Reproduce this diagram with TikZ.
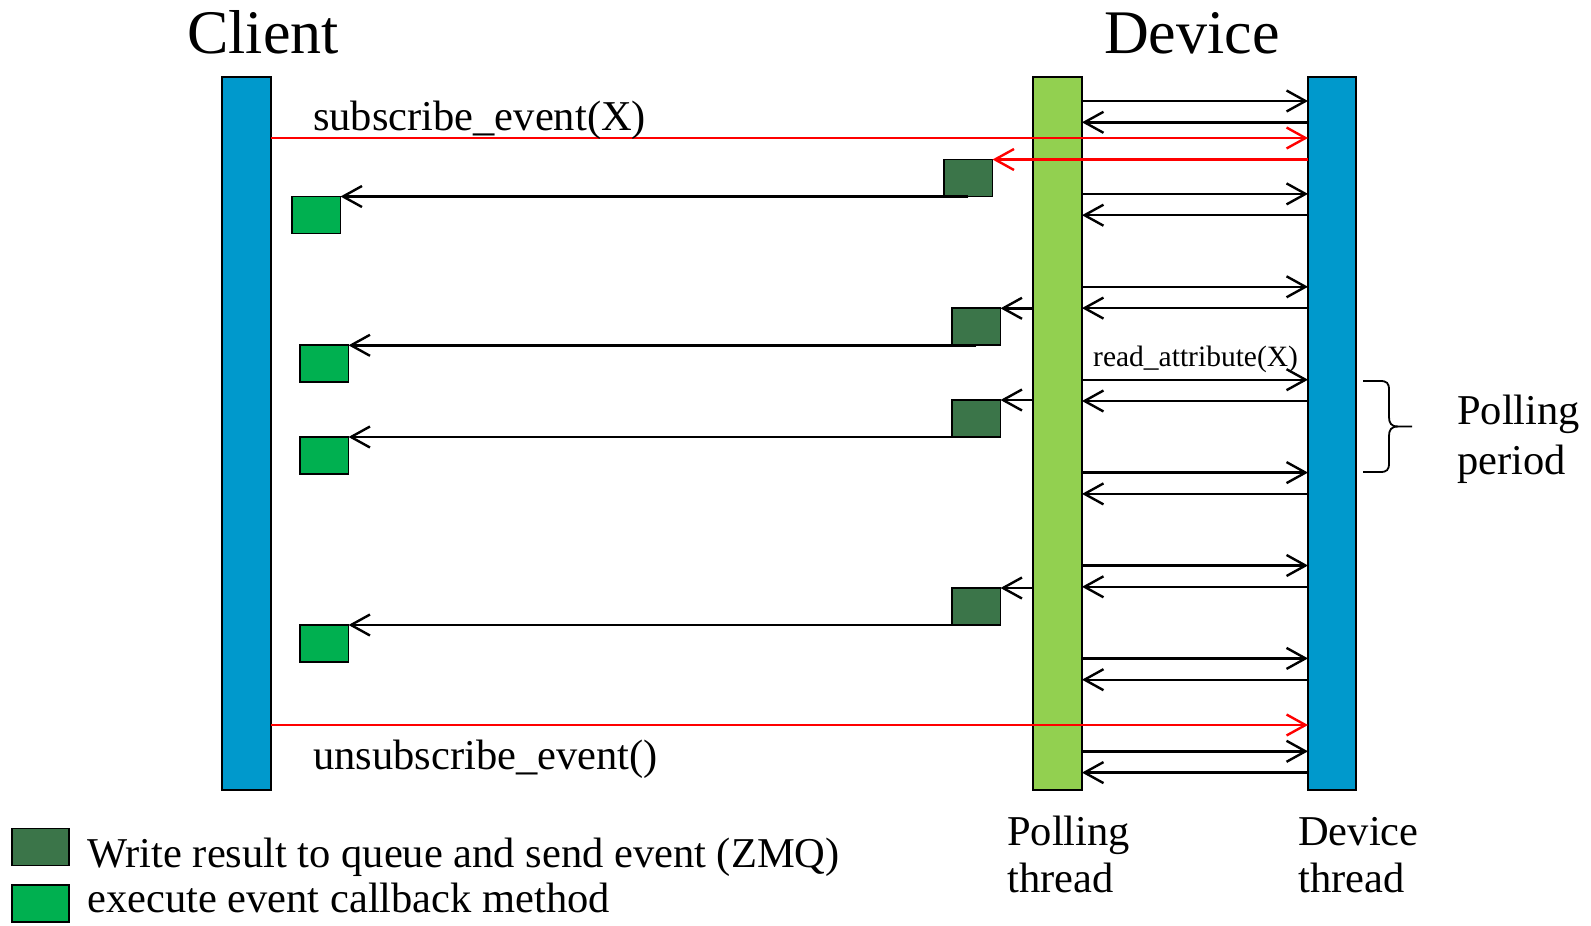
\documentclass[tikz,border=0pt]{standalone}
\usepackage{fontspec}
\setmainfont{Liberation Serif}
\usetikzlibrary{arrows.meta}
\definecolor{barblue}{RGB}{0,153,204}
\definecolor{pollgreen}{RGB}{146,208,80}
\definecolor{queuegreen}{RGB}{59,117,73}
\definecolor{cbgreen}{RGB}{0,176,80}
\begin{document}
\begin{tikzpicture}[x=1pt,y=-1pt,
  bar/.style={draw=black, line width=1.8pt, minimum width=49pt, minimum height=713pt, inner sep=0pt, outer sep=0pt},
  qbox/.style={draw=black, line width=1.8pt, fill=queuegreen, minimum width=48.5pt, minimum height=37pt, inner sep=0pt, outer sep=0pt, anchor=north west},
  cbbox/.style={qbox, fill=cbgreen},
  msg/.style={line width=2.4pt, -{Straight Barb[length=19pt,width=21pt]}},
  call/.style={msg, red},
  lbl/.style={inner sep=0pt, anchor=base west, font=\fontsize{42.5}{48}\selectfont},
  small/.style={inner sep=0pt, anchor=base west, font=\fontsize{29.5}{34}\selectfont},
  title/.style={inner sep=0pt, anchor=base, font=\fontsize{62}{70}\selectfont}]
\useasboundingbox (0,0) rectangle (1591,926);

% lifelines
\node[bar, fill=barblue] (client) at (246.5,433.5) {};
\node[bar, fill=pollgreen] (poll) at (1057.5,433.5) {};
\node[bar, fill=barblue, minimum width=48pt] (dev) at (1332,433.5) {};

\node[title] (tclient) at (263,53) {Client};
\node[title] (tdevice) at (1192,53) {Device};

% periodic polling requests and replies
\foreach \k in {0,...,7}{
  \pgfmathsetmacro\ya{101+92.9*\k}
  \pgfmathsetmacro\yb{\ya+21.3}
  \draw[msg] (poll.east |- 0,\ya) -- (dev.west |- 0,\ya);
  \draw[msg] (dev.west |- 0,\yb) -- (poll.east |- 0,\yb);
}
\node[small] (tread) at (1093,366) {read\_attribute(X)};

% queue writes and event callbacks
\node[qbox] (wq1) at (944,159.5) {};
\node[qbox] (wq2) at (952,308.3) {};
\node[qbox] (wq3) at (952,400) {};
\node[qbox] (wq4) at (952,588) {};
\node[cbbox] (cb1) at (292,196.5) {};
\node[cbbox] (cb2) at (300,345.3) {};
\node[cbbox] (cb3) at (300,437) {};
\node[cbbox] (cb4) at (300,625) {};

\draw[msg] (poll.west |- wq2.north) -- (wq2.north east);
\draw[msg] (poll.west |- wq3.north) -- (wq3.north east);
\draw[msg] (poll.west |- wq4.north) -- (wq4.north east);
\draw[msg] (wq1.south) -- (cb1.north east);
\draw[msg] (wq2.south) -- (cb2.north east);
\draw[msg] (wq3.south) -- (cb3.north east);
\draw[msg] (wq4.south) -- (cb4.north east);

% subscription calls
\draw[call] (client.east |- 0,138) -- (dev.west |- 0,138);
\draw[call] (dev.west |- wq1.north) -- (wq1.north east);
\draw[call] (client.east |- 0,725) -- (dev.west |- 0,725);
\node[lbl] (tsub) at (313,130) {subscribe\_event(X)};
\node[lbl] (tunsub) at (313,769) {unsubscribe\_event()};

% polling period brace
\draw[line width=1.8pt] (1363,381) -- (1380,381) .. controls (1387,381) and (1389,383) .. (1389,390) -- (1389,417) .. controls (1389,423) and (1391,426.5) .. (1398,426.5) -- (1412,426.5);
\draw[line width=1.8pt] (1363,472) -- (1380,472) .. controls (1387,472) and (1389,470) .. (1389,463) -- (1389,436) .. controls (1389,430) and (1391,426.5) .. (1398,426.5);
\node[lbl] (tpp1) at (1457,424) {Polling};
\node[lbl] (tpp2) at (1457,474) {period};

% thread labels
\node[lbl] (tpt1) at (1007,845) {Polling};
\node[lbl] (tpt2) at (1007,892) {thread};
\node[lbl] (tdt1) at (1298,845) {Device};
\node[lbl] (tdt2) at (1298,892) {thread};

% legend
\node[qbox, minimum width=57pt] (lq) at (12,828.5) {};
\node[cbbox, minimum width=57pt] (lc) at (12,885) {};
\node[lbl] (tlq) at (87,867) {Write result to queue and send event (ZMQ)};
\node[lbl] (tlc) at (87,912) {execute event callback method};
\end{tikzpicture}
\end{document}
